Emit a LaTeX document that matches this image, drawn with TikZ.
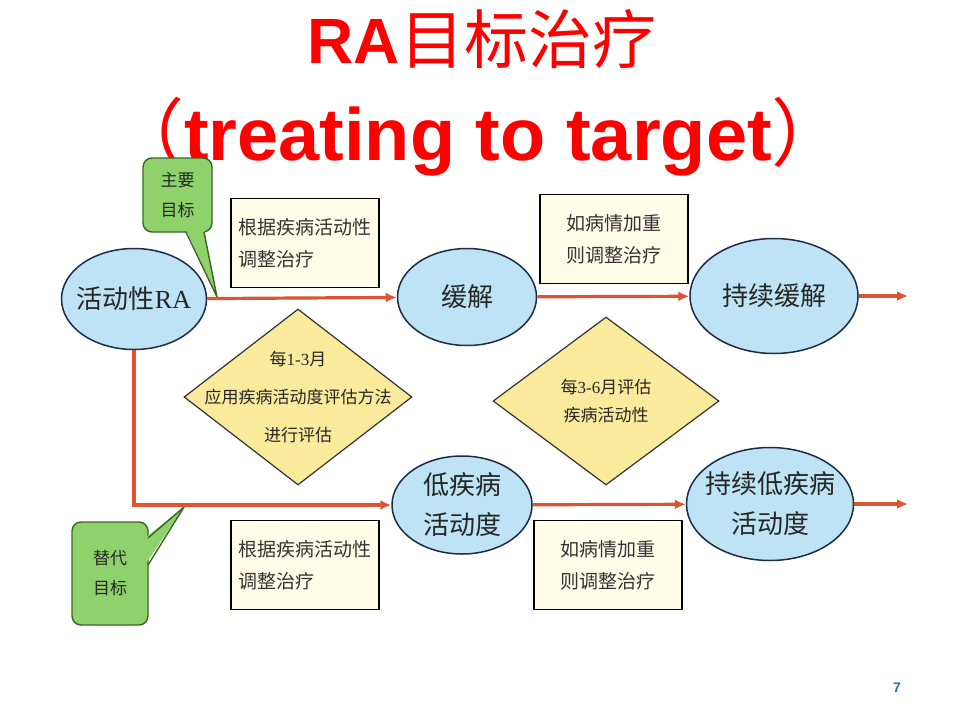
\documentclass[tikz,border=0pt]{standalone}
\usepackage{fontspec}
\setmainfont{Liberation Serif}
\newfontfamily\cjk{Noto Sans CJK SC}
\newfontfamily\arialfont{Liberation Sans}
\usetikzlibrary{arrows.meta,shapes.geometric}
\definecolor{flowred}{HTML}{DC5530}
\definecolor{skyfill}{HTML}{BDE3F5}
\definecolor{navyline}{HTML}{1E2B45}
\definecolor{diamfill}{HTML}{FAEA9C}
\definecolor{notefill}{HTML}{FFFCE8}
\definecolor{tagfill}{HTML}{8FD26B}
\definecolor{tagline}{HTML}{3A6625}
\definecolor{pageblue}{HTML}{2A6EBB}

\begin{document}
\begin{tikzpicture}[x=1pt,y=-1pt]
\tikzstyle{statestyle}=[draw=navyline, line width=1.5pt, fill=skyfill, ellipse, inner sep=0pt]
\tikzstyle{statetext}=[font=\cjk\fontsize{26}{40}\selectfont, text=black!85, align=center]
\tikzstyle{diamstyle}=[draw=black!80, line width=1.2pt, fill=diamfill, diamond, inner sep=0pt]
\tikzstyle{diamtext}=[font=\cjk\fontsize{17}{38}\selectfont, text=black!85, align=center]
\tikzstyle{notestyle}=[draw=black, line width=1.8pt, fill=notefill, minimum width=148, minimum height=89, inner sep=0pt, align=left, font=\cjk\fontsize{19}{32}\selectfont, text=black!80]
\tikzstyle{tagstyle}=[draw=tagline, line width=1.4pt, fill=tagfill, rounded corners=9pt, inner sep=0pt, align=center, font=\cjk\fontsize{17}{30}\selectfont, text=black!85]
\tikzstyle{flow}=[draw=flowred, line width=3.2pt, -{Latex[length=11pt,width=10pt]}]
    \useasboundingbox (0,0) rectangle (960,720);
    % title
    \node[text=red, font=\fontsize{64}{70}\selectfont, anchor=base] (title) at (482,63) {{\arialfont\bfseries RA}{\cjk 目标治疗}};
    \node[text=red, font=\fontsize{74}{80}\selectfont, anchor=base] (subtitle) at (478,160) {{\cjk （}{\arialfont\bfseries treating to target}{\cjk ）}};
    % states
    \node[statestyle, minimum width=145, minimum height=101] (active) at (134,299) {};
    \node[statestyle, minimum width=139, minimum height=97] (remit) at (467,297) {};
    \node[statestyle, minimum width=168, minimum height=115] (susremit) at (774,296) {};
    \node[statestyle, minimum width=140, minimum height=98] (lowda) at (462,505) {};
    \node[statestyle, minimum width=167, minimum height=113] (suslowda) at (770,504) {};
    \node[statetext] (activelbl) at (active) {活动性\rmfamily RA};
    \node[statetext] (remitlbl) at (remit) {缓解};
    \node[statetext] (susremitlbl) at (susremit) {持续缓解};
    \node[statetext] (lowdalbl) at (lowda) {低疾病\\活动度};
    \node[statetext] (suslowdalbl) at (suslowda) {持续低疾病\\活动度};
    % assessment diamonds
    \node[diamstyle, minimum width=228, minimum height=176] (every13) at (298,397) {};
    \node[diamstyle, minimum width=226, minimum height=168] (every36) at (606,401) {};
    \node[diamtext] (every13lbl) at (every13) {每{\rmfamily 1-3}月\\应用疾病活动度评估方法\\进行评估};
    \node[diamtext, font=\cjk\fontsize{17}{28}\selectfont] (every36lbl) at (every36) {每{\rmfamily 3-6}月评估\\疾病活动性};
    % notes
    \node[notestyle] (adjtop) at (305,243) {根据疾病活动性\\调整治疗};
    \node[notestyle] (worsetop) at (614,239) {如病情加重\\则调整治疗};
    \node[notestyle] (adjbot) at (305,565) {根据疾病活动性\\调整治疗};
    \node[notestyle] (worsebot) at (608,565) {如病情加重\\则调整治疗};
    % goal tags
    \node[tagstyle, minimum width=69, minimum height=74] (primary) at (177.5,195) {主要\\目标};
    \fill[tagfill] (186,229) -- (217,297) -- (204,229) -- cycle;
    \draw[tagline, line width=1.4pt, line join=round] (186,232) -- (217,297) -- (204,232);
    \node[tagstyle, minimum width=76, minimum height=103] (surrogate) at (110,573.5) {替代\\目标};
    \fill[tagfill] (145,538) -- (184,507) -- (145,565) -- cycle;
    \draw[tagline, line width=1.4pt, line join=round] (148,538) -- (184,507) -- (148,565);
    % flows
    \coordinate (out1) at (908,296);
    \coordinate (out2) at (908,504);
    \draw[flow] (active) -- (remit);
    \draw[flow] (remit) -- (susremit);
    \draw[flow] (susremit.east) -- (out1);
    \draw[flow] (active.south) |- (lowda.west);
    \draw[flow] (lowda) -- (suslowda);
    \draw[flow] (suslowda.east) -- (out2);
    % page number
    \node[text=pageblue, font=\arialfont\bfseries\fontsize{14}{16}\selectfont] (pagenum) at (897,688) {7};
\end{tikzpicture}
\end{document}
